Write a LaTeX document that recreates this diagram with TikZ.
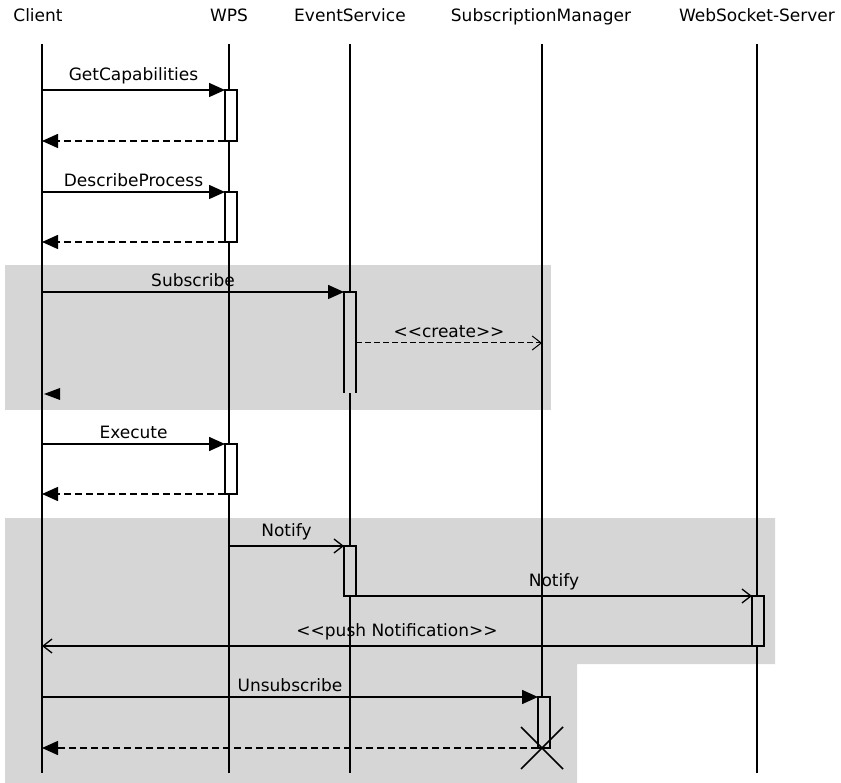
\documentclass[tikz,border=0pt]{standalone}
\usepackage{fontspec}
\setmainfont{DejaVu Sans}
\usetikzlibrary{arrows.meta}
\definecolor{bggray}{RGB}{214,214,214}
\tikzset{
  life/.style={line width=1.5pt},
  act/.style={draw, line width=1.5pt, fill=white, minimum width=12pt, inner sep=0pt, outer sep=0pt},
  msg/.style={line width=1.5pt, -{Triangle[length=16pt,width=14pt]}},
  ret/.style={line width=1.5pt, dash pattern=on 7pt off 4pt, -{Triangle[length=16pt,width=14pt]}},
  async/.style={line width=1.3pt, -{Straight Barb[length=9pt,width=14pt]}},
  createmsg/.style={line width=1pt, dash pattern=on 6pt off 3pt, -{Straight Barb[length=9pt,width=14pt]}},
  lbl/.style={font=\fontsize{17}{20}\selectfont, anchor=base, inner sep=0pt},
  region/.style={fill=bggray, draw=none},
}
\begin{document}
\begin{tikzpicture}[x=1pt,y=-1pt]
\useasboundingbox (0,0) rectangle (841,783);
% grey combined-fragment regions
\fill[region] (5,265) rectangle (551,410);
\fill[region] (5,518) -- (775,518) -- (775,664) -- (577,664) -- (577,783) -- (5,783) -- cycle;

% headers
\node[lbl] (hC) at (38,22) {Client};
\node[lbl] (hW) at (229,22) {WPS};
\node[lbl] (hE) at (350,22) {EventService};
\node[lbl] (hS) at (541,22) {SubscriptionManager};
\node[lbl] (hK) at (757,22) {WebSocket-Server};

% lifeline ends
\coordinate (cT) at (42,44);  \coordinate (cB) at (42,773);
\coordinate (wT) at (229,44); \coordinate (wB) at (229,773);
\coordinate (eT) at (350,44); \coordinate (eB) at (350,773);
\coordinate (sT) at (542,44); \coordinate (sX) at (542,748);
\coordinate (kT) at (757,44); \coordinate (kB) at (757,773);
\draw[life] (cT) -- (cB);
\draw[life] (wT) -- (wB);
\draw[life] (eT) -- (eB);
\draw[life] (sT) -- (sX);
\draw[life] (kT) -- (kB);

% activations
\node[act, minimum height=51pt] (w1) at (231,115.5) {};
\node[act, minimum height=50pt] (w2) at (231,217) {};
\node[act, draw=none, fill=bggray, minimum height=101pt] (e1) at (350,342.5) {};
\draw[line width=1.5pt] (e1.south west) -- (e1.north west) -- (e1.north east) -- (e1.south east);
\node[act, minimum height=50pt] (w3) at (231,469) {};
\node[act, fill=bggray, minimum height=50pt] (e2) at (350,571) {};
\node[act, fill=bggray, minimum height=50pt] (k1) at (758,621) {};
\node[act, fill=bggray, minimum height=51pt] (s1) at (544,722.5) {};

% client-side coordinates
\coordinate (c1) at (42,90);
\coordinate (c2) at (42,141);
\coordinate (c3) at (42,192);
\coordinate (c4) at (42,242);
\coordinate (c5) at (42,292);
\coordinate (c7) at (42,444);
\coordinate (c8) at (42,494);
\coordinate (c9) at (42,646);
\coordinate (c10) at (42,697);
\coordinate (c11) at (42,748);
\coordinate (wN) at (229,546);
\coordinate (sC) at (542,343);

% messages
\draw[msg] (c1) -- node[lbl, above=5pt] {GetCapabilities} (w1.north west);
\draw[ret] (w1.south west) -- (c2);
\draw[msg] (c3) -- node[lbl, above=5pt] {DescribeProcess} (w2.north west);
\draw[ret] (w2.south west) -- (c4);
\draw[msg] (c5) -- node[lbl, above=5pt] {Subscribe} (e1.north west);
\draw[createmsg] (e1.east |- sC) -- node[lbl, above=5pt] {<{}<create>{}>} (sC);
\fill (44,394) -- (60,388) -- (60,400) -- cycle;
\draw[msg] (c7) -- node[lbl, above=5pt] {Execute} (w3.north west);
\draw[ret] (w3.south west) -- (c8);
\draw[async] (wN) -- node[lbl, above=5pt] {Notify} (e2.north west);
\draw[async] (e2.south east) -- node[lbl, above=5pt] {Notify} (k1.north west);
\draw[async] (k1.south west) -- node[lbl, above=5pt] {<{}<push Notification>{}>} (c9);
\draw[msg] (c10) -- node[lbl, above=5pt] {Unsubscribe} (s1.north west);
\draw[ret] (s1.south west) -- (c11);
\draw[line width=1.5pt] ([shift={(-21,-21)}]sX) -- ([shift={(21,21)}]sX);
\draw[line width=1.5pt] ([shift={(-21,21)}]sX) -- ([shift={(21,-21)}]sX);
\end{tikzpicture}
\end{document}
